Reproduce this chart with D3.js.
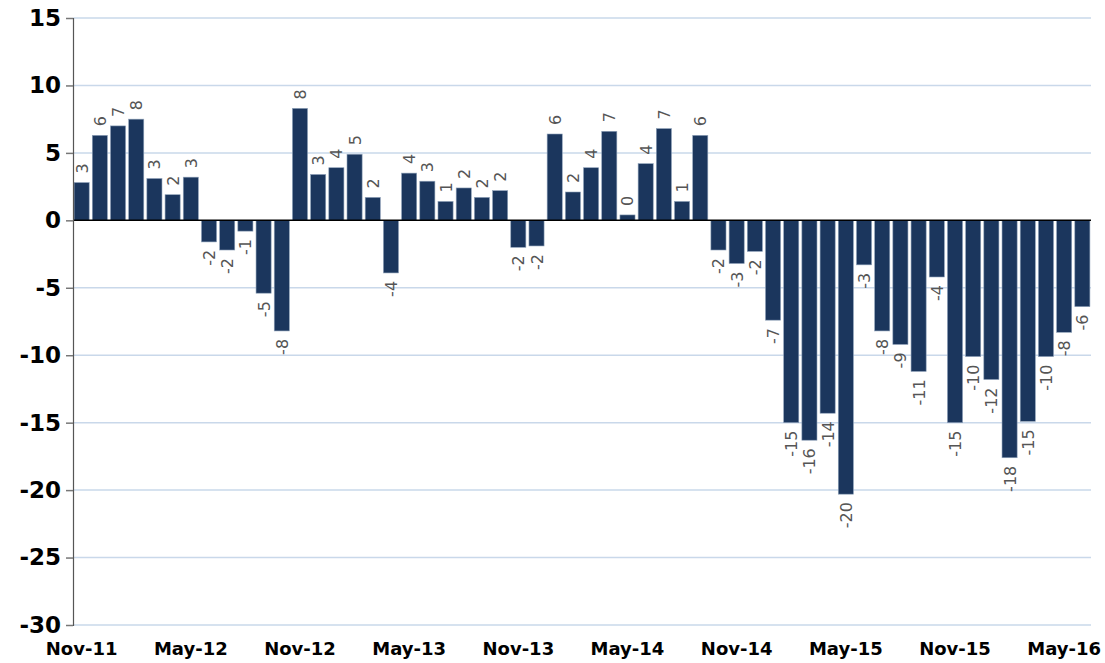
<!DOCTYPE html>
<html>
<head>
<meta charset="utf-8">
<script src="https://cdn.jsdelivr.net/npm/d3@7"></script>
<style>
  body { margin: 0; background: #fff; }
  svg { display: block; }
</style>
</head>
<body>
<svg id="chart"></svg>
<script>
// monthly values, Nov-11 .. Jun-16
var months = ["Nov-11","Dec-11","Jan-12","Feb-12","Mar-12","Apr-12","May-12","Jun-12","Jul-12","Aug-12","Sep-12","Oct-12",
  "Nov-12","Dec-12","Jan-13","Feb-13","Mar-13","Apr-13","May-13","Jun-13","Jul-13","Aug-13","Sep-13","Oct-13",
  "Nov-13","Dec-13","Jan-14","Feb-14","Mar-14","Apr-14","May-14","Jun-14","Jul-14","Aug-14","Sep-14","Oct-14",
  "Nov-14","Dec-14","Jan-15","Feb-15","Mar-15","Apr-15","May-15","Jun-15","Jul-15","Aug-15","Sep-15","Oct-15",
  "Nov-15","Dec-15","Jan-16","Feb-16","Mar-16","Apr-16","May-16","Jun-16"];
var values = [2.8, 6.3, 7.0, 7.5, 3.1, 1.9, 3.2, -1.6, -2.2, -0.8, -5.4, -8.2,
  8.3, 3.4, 3.9, 4.9, 1.7, -3.9, 3.5, 2.9, 1.4, 2.4, 1.7, 2.2,
  -2.0, -1.9, 6.4, 2.1, 3.9, 6.6, 0.4, 4.2, 6.8, 1.4, 6.3, -2.2,
  -3.2, -2.3, -7.4, -15.0, -16.3, -14.3, -20.3, -3.3, -8.2, -9.2, -11.2, -4.2,
  -15.0, -10.1, -11.8, -17.6, -14.9, -10.1, -8.3, -6.4];
var xTickLabels = ["Nov-11","May-12","Nov-12","May-13","Nov-13","May-14","Nov-14","May-15","Nov-15","May-16"];
var yTicks = [15, 10, 5, 0, -5, -10, -15, -20, -25, -30];

var W = 1105, H = 663;
var plotL = 73, plotR = 1091, plotT = 18, plotB = 625;

// plain hyphen for negatives, like the original
var fmt = function(d) { return String(Math.round(d)); };

var svg = d3.select("#chart").attr("width", W).attr("height", H);

var x = d3.scaleBand().domain(months).range([plotL, plotR]).paddingInner(0.17).paddingOuter(0.06);
var y = d3.scaleLinear().domain([-30, 15]).range([plotB, plotT]);

// gridlines
svg.append("g").selectAll("line")
  .data(yTicks.filter(function(d) { return d !== 0; }))
  .enter().append("line")
  .attr("x1", plotL).attr("x2", plotR)
  .attr("y1", function(d) { return y(d); }).attr("y2", function(d) { return y(d); })
  .attr("stroke", "#c9d8ea").attr("stroke-width", 1.5);

// bars
svg.append("g").selectAll("rect")
  .data(values)
  .enter().append("rect")
  .attr("x", function(d, i) { return x(months[i]); })
  .attr("width", x.bandwidth())
  .attr("y", function(d) { return y(Math.max(0, d)); })
  .attr("height", function(d) { return Math.abs(y(d) - y(0)); })
  .attr("fill", "#1b365d")
  .attr("stroke", "#8da0b8")
  .attr("stroke-width", 0.6);

// data labels, rotated
svg.append("g").selectAll("text")
  .data(values)
  .enter().append("text")
  .attr("transform", function(d, i) {
    var cx = x(months[i]) + x.bandwidth() / 2 + 6;
    var cy = d >= 0 ? y(d) - 9 : y(d) + 8;
    return "translate(" + cx + "," + cy + ") rotate(-90)";
  })
  .attr("text-anchor", function(d) { return d >= 0 ? "start" : "end"; })
  .style("font-family", "'DejaVu Sans', Verdana, sans-serif")
  .style("font-size", "16px")
  .style("fill", "#555")
  .text(fmt);

// zero line
svg.append("line")
  .attr("x1", plotL).attr("x2", plotR)
  .attr("y1", y(0)).attr("y2", y(0))
  .attr("stroke", "#000").attr("stroke-width", 1.5);

// y axis
var yAxis = d3.axisLeft(y).tickValues(yTicks).tickSize(7).tickPadding(5).tickFormat(fmt);
var yg = svg.append("g")
  .attr("transform", "translate(" + plotL + ",0)")
  .call(yAxis);
yg.select(".domain").attr("stroke", "#555").attr("stroke-width", 1.2);
yg.selectAll(".tick line").attr("stroke", "#777").attr("stroke-width", 1.5);
yg.selectAll(".tick text")
  .style("font-family", "'DejaVu Sans', Verdana, sans-serif")
  .style("font-weight", "bold")
  .style("font-size", "23px")
  .style("fill", "#000");

// x axis labels, every 6th month
var xAxis = d3.axisBottom(x).tickValues(xTickLabels).tickSize(0).tickPadding(0);
var xg = svg.append("g")
  .attr("transform", "translate(0," + (plotB + 17) + ")")
  .call(xAxis);
xg.select(".domain").remove();
xg.selectAll(".tick text")
  .style("font-family", "'DejaVu Sans', Verdana, sans-serif")
  .style("font-weight", "bold")
  .style("font-size", "18px")
  .style("fill", "#000");
</script>
</body>
</html>
